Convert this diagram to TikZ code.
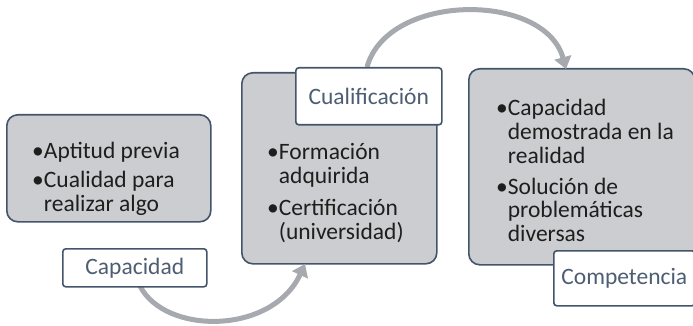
\documentclass[tikz,border=0pt]{standalone}
\usepackage{fontspec}
\setmainfont{Carlito}
\usetikzlibrary{arrows.meta}
\definecolor{boxfill}{HTML}{CBCDD0}
\definecolor{boxline}{HTML}{44546A}
\definecolor{labtext}{HTML}{4E5E72}
\definecolor{arrowgray}{HTML}{A6AAAE}
\definecolor{bodytext}{HTML}{1E1E1E}
\tikzset{
  box/.style={draw=boxline, fill=boxfill, line width=1.6pt, rounded corners=11pt, anchor=north west, inner sep=0pt},
  lab/.style={draw=boxline, fill=white, line width=1.6pt, rounded corners=3pt, anchor=north west, inner sep=0pt, text=labtext, font=\fontsize{23.5}{24}\selectfont},
  txt/.style={anchor=base west, inner sep=0pt, text=bodytext, font=\fontsize{23.5}{24}\selectfont},
  flow/.style={draw=arrowgray, line width=5pt, -{Triangle[width=17pt,length=12pt]}}
}
\begin{document}
\begin{tikzpicture}[x=1pt,y=-1pt]
\useasboundingbox (0,0) rectangle (693,326);
% boxes
\node[box, minimum width=204, minimum height=107] (b1) at (6,114) {};
\node[box, minimum width=195, minimum height=191] (b2) at (241,72) {};
\node[box, minimum width=226, minimum height=196] (b3) at (468,68) {};
% texts
\node[txt] (t1) at (32,158) {\begin{tabular}[t]{@{}l@{}l@{}}•&Aptitud previa\\[5pt]•&Cualidad para\\&realizar algo\end{tabular}};
\node[txt] (t2) at (267,160) {\begin{tabular}[t]{@{}l@{}l@{}}•&Formación\\&adquirida\\[7pt]•&Certificación\\&(universidad)\end{tabular}};
\node[txt] (t3) at (496,116) {\begin{tabular}[t]{@{}l@{}l@{}}•&Capacidad\\&demostrada en la\\&realidad\\[6pt]•&Solución de\\&problemáticas\\&diversas\end{tabular}};
% arrows
\coordinate (a1s) at (140,286);
\coordinate (a1e) at (305,264);
\coordinate (a2s) at (367,67);
\coordinate (a2e) at (566,69);
\draw[flow] (a1s) .. controls (165,335) and (272,335) .. (a1e);
\draw[flow] (a2s) .. controls (388,-8) and (545,-8) .. (a2e);
% labels
\node[lab, minimum width=144, minimum height=38] (l1) at (62,248) {Capacidad};
\node[lab, minimum width=146, minimum height=57] (l2) at (295,67) {Cualificación};
\node[lab, minimum width=141, minimum height=55] (l3) at (553,250) {Competencia};
\end{tikzpicture}
\end{document}
